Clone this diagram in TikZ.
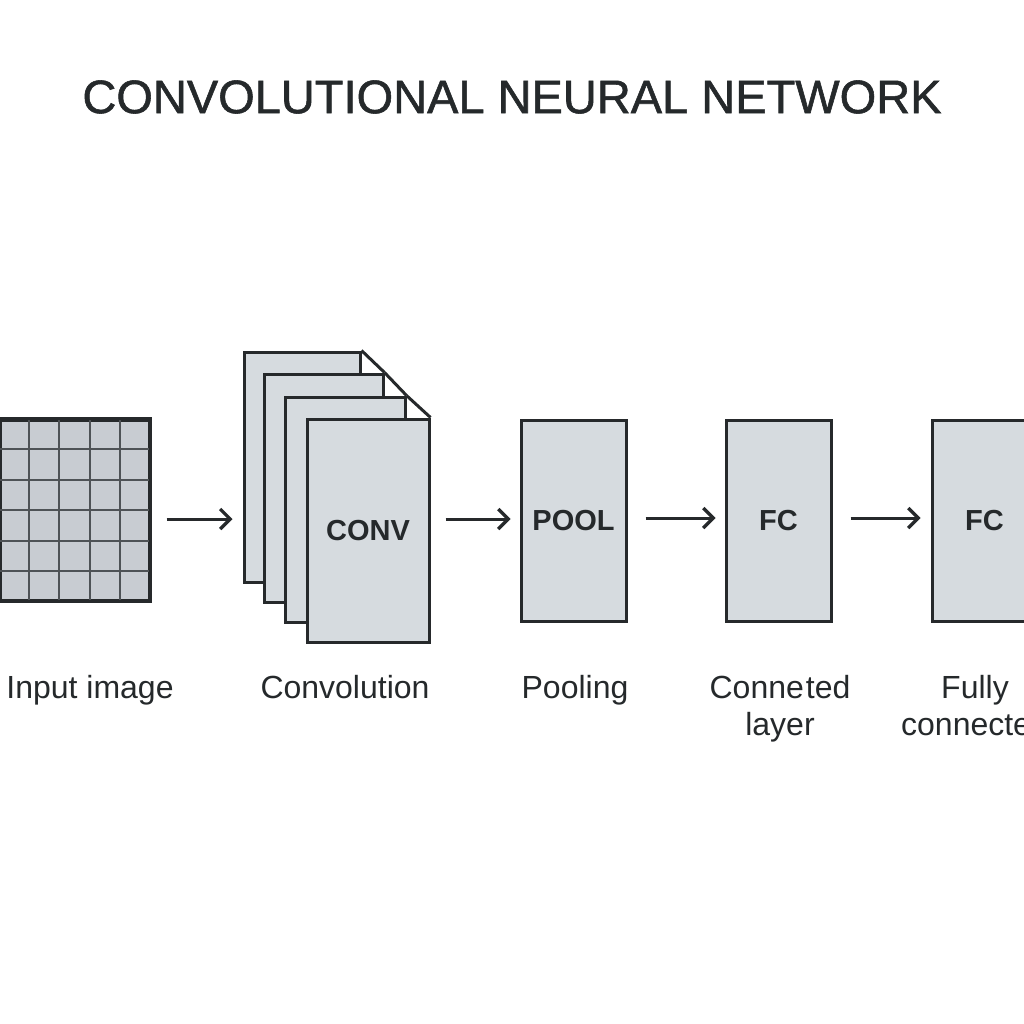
\documentclass[tikz,border=0pt]{standalone}
\usepackage{fontspec}
\setmainfont{Liberation Sans}
\newfontfamily\headfont[FakeBold=1.2]{Liberation Sans}
\usetikzlibrary{arrows.meta,backgrounds,calc}

\definecolor{ink}{HTML}{25292B}
\definecolor{edge}{HTML}{26292B}
\definecolor{boxfill}{HTML}{D6DBDF}
\definecolor{cellfill}{HTML}{C8CCD2}
\definecolor{cellline}{HTML}{4E5256}

\tikzset{
  layerbox/.style={draw=edge, fill=boxfill, line width=3pt, rectangle,
    inner sep=0pt, text=ink, font=\fontsize{29}{34}\selectfont\bfseries},
  gridbox/.style={draw=edge, fill=cellfill, line width=3pt, rectangle, inner sep=0pt},
  flow/.style={draw=edge, line width=3pt, -{Straight Barb[length=10pt,width=20pt,line width=3.2pt]}},
  caption/.style={text=ink, font=\fontsize{32}{37}\selectfont, align=center, anchor=base, inner sep=0pt},
}

\begin{document}
\begin{tikzpicture}[x=1pt, y=-1pt]
  \useasboundingbox (0,0) rectangle (1024,1024);
  \clip (0,0) rectangle (1024,1024);
  \fill[white] (0,0) rectangle (1024,1024);

  % title
  \node[text=ink, font=\headfont\fontsize{47}{52}\selectfont, inner sep=0pt] (title) at (512,97)
    {CONVOLUTIONAL NEURAL NETWORK};

  % input image: 5 x 6 grid of pixels
  \node[gridbox, minimum width=149pt, minimum height=180pt] (input) at (74.5,510) {};
  \foreach \i in {1,...,4}
    \draw[cellline, line width=2pt]
      ($(input.north west)!\i/5!(input.north east)$) -- ($(input.south west)!\i/5!(input.south east)$);
  \foreach \j in {1,...,5}
    \draw[cellline, line width=2pt]
      ($(input.north west)!\j/6!(input.south west)$) -- ($(input.north east)!\j/6!(input.south east)$);
  \draw[edge, line width=3pt] (input.north west) rectangle (input.south east);

  % convolution: stack of feature maps
  \node[layerbox, minimum width=116pt, minimum height=230pt] (s1) at (302,467) {};
  \node[layerbox, minimum width=119pt, minimum height=228pt] (s2) at (323.5,488) {};
  \node[layerbox, minimum width=120pt, minimum height=225pt] (s3) at (345,509.5) {};
  \node[layerbox, minimum width=122pt, minimum height=223pt] (conv) at (368,530.5) {CONV};
  \begin{scope}[on background layer]
    \fill[boxfill] (s1.north east) -- (s2.north east) -- (s1.north east |- s2.north) -- cycle;
    \fill[boxfill] (s2.north east) -- (s3.north east) -- (s2.north east |- s3.north) -- cycle;
    \fill[boxfill] (s3.north east) -- (conv.north east) -- (s3.north east |- conv.north) -- cycle;
  \end{scope}
  \draw[edge, line width=3pt, line join=round] (s1.north east) -- (s2.north east);
  \draw[edge, line width=3pt, line join=round] (s2.north east) -- (s3.north east);
  \draw[edge, line width=3pt, line join=round] (s3.north east) -- (conv.north east);

  % pooling and fully connected layers
  \node[layerbox, minimum width=105pt, minimum height=201pt] (pool) at (573.5,520.5) {POOL};
  \node[layerbox, minimum width=105pt, minimum height=201pt] (fc1) at (778.5,520.5) {FC};
  \node[layerbox, minimum width=105pt, minimum height=201pt] (fc2) at (984.5,520.5) {FC};

  % connectors
  \draw[flow] ($(input.east |- pool.center)+(16,-1.5)$) -- ($(s1.west |- pool.center)+(-10,-1.5)$);
  \draw[flow] ($(conv.east |- pool.center)+(15,-1.5)$) -- ($(pool.west)+(-9,-1.5)$);
  \draw[flow] ($(pool.east)+(18,-2.5)$) -- ($(fc1.west)+(-9,-2.5)$);
  \draw[flow] ($(fc1.east)+(18,-2.5)$) -- ($(fc2.west)+(-10,-2.5)$);

  % captions (a two-line caption sits on the baseline of its last line)
  \node[caption] (capin) at (90,698) {Input image};
  \node[caption] (capconv) at (345,698) {Convolution};
  \node[caption] (cappool) at (575,698) {Pooling};
  \node[caption] (capfc1) at (780,735) {Conne\hspace{2pt}ted\\layer};
  \node[caption] (capfc2) at (975,735) {Fully\\connected};
\end{tikzpicture}
\end{document}
